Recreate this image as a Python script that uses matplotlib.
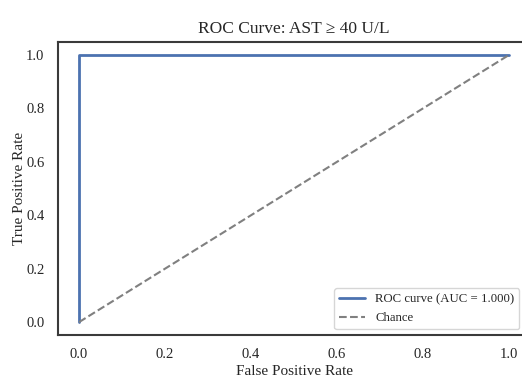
import matplotlib
matplotlib.use("Agg")
import matplotlib.pyplot as plt
import seaborn as sns

sns.set_theme(style="white")
plt.rcParams['font.family'] = ['Liberation Serif', 'DejaVu Serif']

fpr = [0.0, 0.0, 1.0]
tpr = [0.0, 1.0, 1.0]
chance_x = [0.0, 1.0]
chance_y = [0.0, 1.0]
auc_value = 1.000

fig = plt.figure(figsize=(5.22, 3.77), dpi=100)
ax = fig.add_axes([0.1102, 0.1101, 0.9061, 0.7796])
ax.plot(fpr, tpr, color="#4C72B0", lw=2, label=f"ROC curve (AUC = {auc_value:.3f})")
ax.plot(chance_x, chance_y, linestyle="--", color="gray", lw=1.5, label="Chance")
ax.set_xticks([0.0, 0.2, 0.4, 0.6, 0.8, 1.0])
ax.set_yticks([0.0, 0.2, 0.4, 0.6, 0.8, 1.0])
ax.tick_params(labelsize=10.5)
ax.tick_params(axis="x", pad=3)
ax.set_xlabel("False Positive Rate", fontsize=11, labelpad=3)
ax.set_ylabel("True Positive Rate", fontsize=11, labelpad=0)
ax.set_title("ROC Curve: AST \u2265 40 U/L", fontsize=12.5)
for s in ax.spines.values():
    s.set_color("#3a3a3a")
    s.set_linewidth(1.5)
ax.legend(loc="lower right", fontsize=9.2, bbox_to_anchor=(0.99, 0.0), borderaxespad=0.5)
fig.savefig("out.png", dpi=100)
